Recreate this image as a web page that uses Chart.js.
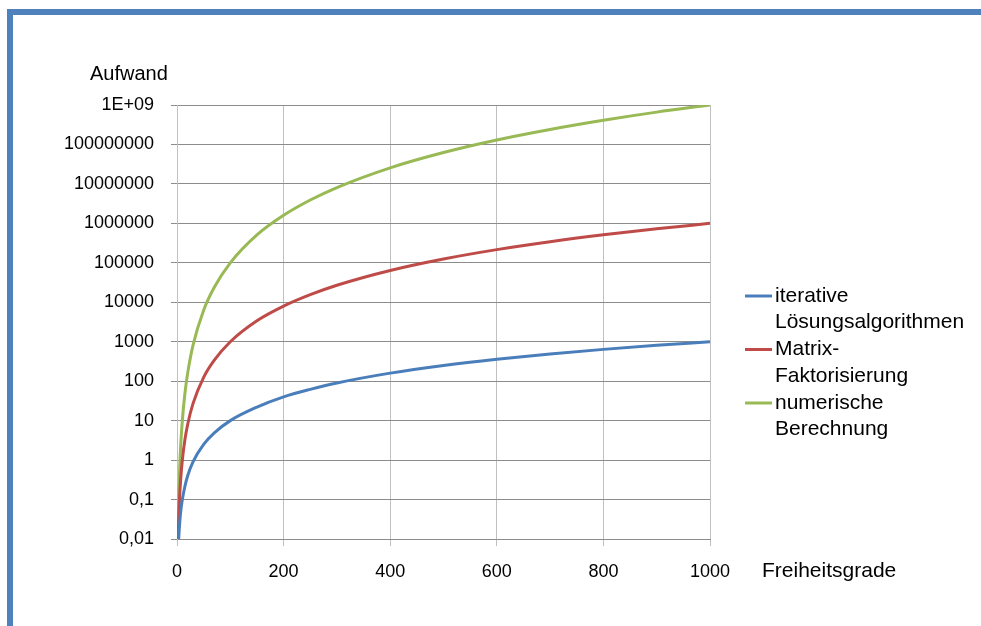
<!DOCTYPE html>
<html>
<head>
<meta charset="utf-8">
<script src="https://cdn.jsdelivr.net/npm/chart.js@4.4.1/dist/chart.umd.min.js"></script>
<style>
  body { margin: 0; background: #fff; }
  #wrap { position: relative; width: 981px; height: 626px; overflow: hidden; }
  #chart { position: absolute; left: 0; top: 0; }
  .bar { position: absolute; background: #4f81bd; }
</style>
</head>
<body>
<div id="wrap">
  <canvas id="chart" width="981" height="626"></canvas>
  <div class="bar" style="left:7px; top:9px; width:974px; height:6px;"></div>
  <div class="bar" style="left:7px; top:9px; width:6px; height:617px;"></div>
</div>
<script>
'use strict'

//Data ---------------------------------------------------------
const xValues = [2, 3, 5, 7, 10, 15, 20, 30, 50, 70, 100, 150, 200, 250, 300, 400, 500, 600, 700, 800, 900, 1000];
const iterativeValues = [0.004, 0.009, 0.025, 0.05, 0.1, 0.22, 0.4, 0.9, 2.5, 4.9, 10, 22, 40, 62, 90, 160, 250, 360, 490, 640, 810, 1000];
const matrixValues = [0.008, 0.027, 0.125, 0.34, 1, 3.4, 8, 27, 125, 340, 1000, 3400, 8000, 15600, 27000, 64000, 125000, 216000, 343000, 512000, 729000, 1000000];
const numericValues = [0.016, 0.081, 0.63, 2.4, 10, 51, 160, 810, 6300, 24000, 100000, 510000, 1600000, 3900000, 8100000, 25600000, 62500000, 130000000, 240000000, 410000000, 660000000, 1000000000];

const seriesNames = [['iterative', 'Lösungsalgorithmen'], ['Matrix-', 'Faktorisierung'], ['numerische', 'Berechnung']];
const seriesColors = ['#4a7ebb', '#be4b48', '#98b954'];

const xTickValues = [0, 200, 400, 600, 800, 1000];
const yTickValues = [0.01, 0.1, 1, 10, 100, 1000, 10000, 100000, 1000000, 10000000, 100000000, 1000000000];
const yTickLabels = ['0,01', '0,1', '1', '10', '100', '1000', '10000', '100000', '1000000', '10000000', '100000000', '1E+09'];

const yTitle = 'Aufwand';
const xTitle = 'Freiheitsgrade';

//Helpers ---------------------------------------------------------
function toPoints(values) {
  return xValues.map((x, i) => ({ x: x, y: values[i] }));
}

const allSeries = [iterativeValues, matrixValues, numericValues];
const datasets = allSeries.map((values, i) => ({
  label: seriesNames[i].join(' '),
  data: toPoints(values),
  borderColor: seriesColors[i],
  backgroundColor: seriesColors[i],
  borderWidth: 3,
  pointRadius: 0,
  cubicInterpolationMode: 'monotone',
  fill: false
}));

//Titles and legend drawn on the canvas ----------------------------
const extrasPlugin = {
  id: 'extras',
  afterDraw(chart) {
    const ctx = chart.ctx;
    const area = chart.chartArea;
    ctx.save();
    ctx.fillStyle = '#000';
    ctx.textBaseline = 'middle';
    ctx.textAlign = 'left';

    ctx.font = '20px "Liberation Sans", Arial, sans-serif';
    ctx.fillText(yTitle, 90, area.top - 31);

    ctx.font = '21px "Liberation Sans", Arial, sans-serif';
    ctx.fillText(xTitle, area.right + 52, area.bottom + 32);

    let y = 296;
    for (let i = 0; i < seriesNames.length; i++) {
      ctx.strokeStyle = seriesColors[i];
      ctx.lineWidth = 3;
      ctx.beginPath();
      ctx.moveTo(area.right + 35, y);
      ctx.lineTo(area.right + 62, y);
      ctx.stroke();
      for (let j = 0; j < seriesNames[i].length; j++) {
        ctx.fillText(seriesNames[i][j], area.right + 65, y + j * 26.3);
      }
      y += 53.5;
    }
    ctx.restore();
  }
};

//Chart ---------------------------------------------------------
const chartCtx = document.getElementById('chart').getContext('2d');

new Chart(chartCtx, {
  type: 'line',
  data: { datasets: datasets },
  plugins: [extrasPlugin],
  options: {
    responsive: false,
    animation: false,
    layout: { padding: { left: 0, top: 105, right: 271, bottom: 0 } },
    plugins: {
      legend: { display: false },
      tooltip: { enabled: false }
    },
    scales: {
      x: {
        type: 'linear',
        min: 0,
        max: 1000,
        afterFit(scale) { scale.height = 87; },
        afterBuildTicks(scale) { scale.ticks = xTickValues.map(v => ({ value: v })); },
        grid: { color: '#c0c0c0', lineWidth: 1, tickLength: 7, drawTicks: true },
        border: { color: '#8c8c8c', width: 1 },
        ticks: {
          color: '#000',
          padding: 15,
          maxRotation: 0,
          autoSkip: false,
          font: { family: '"Liberation Sans", Arial, sans-serif', size: 18 },
          callback: (value) => String(value)
        }
      },
      y: {
        type: 'logarithmic',
        min: 0.01,
        max: 1000000000,
        afterFit(scale) { scale.width = 177; },
        afterBuildTicks(scale) { scale.ticks = yTickValues.map(v => ({ value: v })); },
        grid: { color: '#8c8c8c', lineWidth: 1, tickLength: 6, drawTicks: true },
        border: { color: '#c0c0c0', width: 1 },
        ticks: {
          color: '#000',
          padding: 17,
          autoSkip: false,
          font: { family: '"Liberation Sans", Arial, sans-serif', size: 18 },
          callback: (value, index) => yTickLabels[index]
        }
      }
    }
  }
});
</script>
</body>
</html>
